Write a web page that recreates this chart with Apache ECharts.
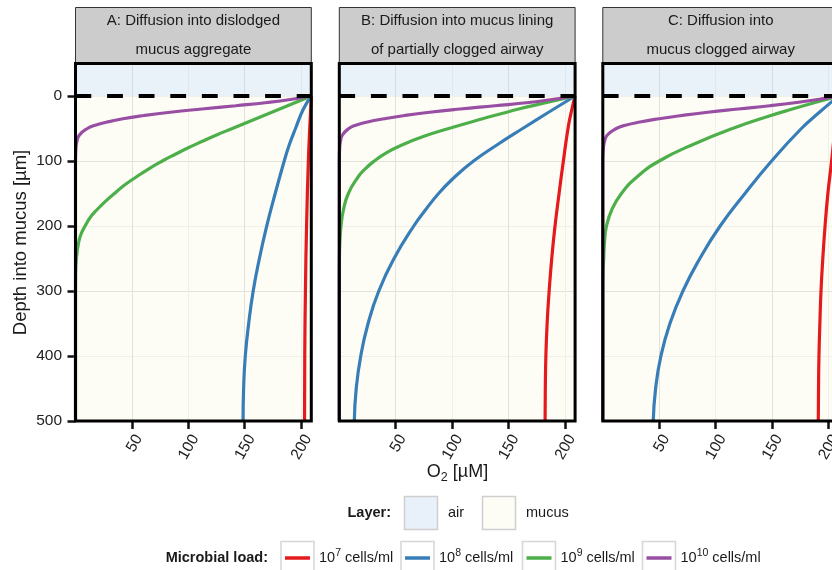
<!DOCTYPE html>
<html><head><meta charset="utf-8">
<script src="https://cdn.jsdelivr.net/npm/echarts@6/dist/echarts.min.js"></script>
<style>html,body{margin:0;padding:0;background:#fff}#c{width:832px;height:570px}</style>
</head><body><div id="c"></div><script>
const FONT = "'Liberation Sans', Arial, Helvetica, sans-serif";

// ---------- labels ----------
const panelTitles = [
  ["A: Diffusion into dislodged", "mucus aggregate"],
  ["B: Diffusion into mucus lining", "of partially clogged airway"],
  ["C: Diffusion into", "mucus clogged airway"]
];
const loadExponents = ["7", "8", "9", "10"];
const loadColors = ["#e41a1c", "#377eb8", "#4daf4a", "#984ea3"];
const layerNames = ["air", "mucus"];
const xTickValues = [50, 100, 150, 200];
const yTickValues = [0, 100, 200, 300, 400, 500];
const yTitle = "Depth into mucus [µm]";

// ---------- data : depth [µm] and O2 [µM] ----------
// Panel A
const depth_A_7  = [0, 50, 100, 200, 300, 400, 500];
const o2_A_7     = [209, 207.6, 206.4, 204.8, 203.8, 203.2, 203];
const depth_A_8  = [0, 20, 50, 75, 100, 150, 200, 250, 300, 350, 400, 450, 500];
const o2_A_8     = [209, 202, 195, 189.5, 185, 177, 169.5, 163, 157.5, 153.5, 150.5, 149, 148.5];
const depth_A_9  = [0, 10, 20, 30, 40, 50, 60, 70, 80, 90, 100, 112, 125, 137, 150, 162, 175, 187, 200, 212, 225, 250, 275, 300, 500];
const o2_A_9     = [209, 195, 181, 167, 153, 139, 125, 112, 99.5, 88, 77, 65, 53.5, 43.5, 34.5, 26.5, 19, 13, 8.5, 5, 2.8, 0.8, 0.1, 0, 0];
const depth_A_10 = [0, 5, 10, 15, 20, 25, 30, 35, 40, 45, 50, 60, 70, 80, 100, 200, 500];
const o2_A_10    = [209, 192, 170, 142, 112, 84, 61, 42, 28, 17.5, 10.5, 3.5, 1.2, 0.4, 0, 0, 0];
// Panel B
const depth_B_7  = [0, 20, 47, 100, 150, 200, 250, 300, 350, 400, 450, 500];
const o2_B_7     = [209, 206.2, 203, 198.6, 194.8, 191.2, 188.3, 186, 184.2, 183.1, 182.6, 182.4];
const depth_B_8  = [0, 25, 50, 75, 100, 125, 150, 175, 200, 250, 300, 350, 400, 450, 500];
const o2_B_8     = [209, 185.5, 162.5, 140, 119, 102, 88, 76.5, 66, 48.5, 35, 25.5, 19, 15, 13.3];
const depth_B_9  = [0, 10, 20, 27, 35, 50, 62, 75, 87, 100, 112, 125, 150, 175, 200, 225, 250, 300, 500];
const o2_B_9     = [209, 184, 159, 144, 127, 97, 75, 56, 42, 31, 23, 16.5, 8, 3.7, 1.5, 0.5, 0.1, 0, 0];
const depth_B_10 = [0, 5, 10, 15, 20, 25, 30, 35, 40, 45, 50, 60, 70, 80, 100, 200, 500];
const o2_B_10    = [209, 190, 168, 138, 107, 80, 58, 40, 25, 14.5, 8.5, 2.8, 1, 0.3, 0, 0, 0];
// Panel C
const depth_C_7  = [0, 25, 50, 75, 100, 150, 200, 250, 300, 350, 400, 450, 500];
const o2_C_7     = [209, 207.3, 205.8, 204.3, 202.8, 199.5, 197, 195, 193.4, 192.4, 191.6, 191.2, 191];
const depth_C_8  = [0, 25, 50, 100, 150, 200, 250, 300, 350, 400, 450, 500];
const o2_C_8     = [209, 192, 176, 149.6, 126, 104, 86, 71, 59.5, 51.5, 46.8, 44.7];
const depth_C_9  = [0, 10, 20, 30, 50, 73, 100, 125, 150, 175, 200, 225, 250, 275, 300, 500];
const o2_C_9     = [209, 188, 168, 149, 115, 82, 50, 30, 16.5, 8, 3.3, 1.5, 0.8, 0.2, 0, 0];
const depth_C_10 = [0, 5, 10, 15, 20, 25, 30, 35, 40, 45, 50, 60, 70, 80, 100, 200, 500];
const o2_C_10    = [209, 192, 172, 148, 120, 93, 70, 50, 33, 20, 12, 4, 1.5, 0.5, 0, 0, 0];

const panelData = [
  [[depth_A_7, o2_A_7], [depth_A_8, o2_A_8], [depth_A_9, o2_A_9], [depth_A_10, o2_A_10]],
  [[depth_B_7, o2_B_7], [depth_B_8, o2_B_8], [depth_B_9, o2_B_9], [depth_B_10, o2_B_10]],
  [[depth_C_7, o2_C_7], [depth_C_8, o2_C_8], [depth_C_9, o2_C_9], [depth_C_10, o2_C_10]]
];
const X_MIN = 0, X_MAX = 209, Y_MIN = -50, Y_MAX = 500, AIR_TOP = -50, SURFACE = 0;

// ---------- layout ----------
const PANEL_LEFT = [75.5, 339.3, 602.8];
const PANEL_W = 235.8, PANEL_TOP = 63.5, PANEL_H = 357.5, STRIP_TOP = 7.5;
const AIR_FILL = "rgba(186,211,236,0.32)";
const MUCUS_FILL = "rgba(245,240,190,0.15)";
const GRID_MAJOR = "#e0e0e0", GRID_MINOR = "#f0f0f0";
const TEXT = "#1a1a1a";

const grids = [], xAxes = [], yAxes = [], series = [];
PANEL_LEFT.forEach((L, i) => {
  grids.push({ left: L, top: PANEL_TOP, width: PANEL_W, height: PANEL_H, outerBoundsMode: 'none', containLabel: false });
  xAxes.push({
    type: 'value', gridIndex: i, position: 'bottom', min: X_MIN, max: X_MAX, interval: 25,
    axisLine: { show: false, onZero: false },
    axisTick: { show: true, customValues: xTickValues, length: 8, lineStyle: { color: '#111', width: 2.5 } },
    axisLabel: { customValues: xTickValues, rotate: 60, align: 'right', verticalAlign: 'top', margin: 11,
                 fontSize: 15.5, color: '#222', fontFamily: FONT },
    splitLine: { show: true, lineStyle: { color: [GRID_MAJOR, GRID_MINOR], width: 1 } }
  });
  yAxes.push({
    type: 'value', gridIndex: i, position: 'left', inverse: true, min: Y_MIN, max: Y_MAX, interval: 50,
    axisLine: { show: false, onZero: false },
    axisTick: { show: i === 0, customValues: yTickValues, length: 8, lineStyle: { color: '#111', width: 2.5 } },
    axisLabel: { show: i === 0, customValues: yTickValues, margin: 13.5, fontSize: 15.5, color: '#222', fontFamily: FONT },
    splitLine: { show: true, lineStyle: { color: [GRID_MINOR, GRID_MAJOR], width: 1 } }
  });
  panelData[i].forEach(([depth, o2], j) => {
    const s = {
      type: 'line', xAxisIndex: i, yAxisIndex: i, name: loadExponents[j],
      data: depth.map((d, k) => [o2[k], d]),
      showSymbol: false, smooth: 0.5, z: 3 + j,
      lineStyle: { color: loadColors[j], width: 3.2 }, itemStyle: { color: loadColors[j] }
    };
    if (j === 0) {
      s.markArea = {
        silent: true, z: 1,
        data: [
          [{ yAxis: AIR_TOP, itemStyle: { color: AIR_FILL } }, { yAxis: SURFACE }],
          [{ yAxis: SURFACE, itemStyle: { color: MUCUS_FILL } }, { yAxis: Y_MAX }]
        ]
      };
      s.markLine = {
        silent: true, symbol: 'none', z: 20, label: { show: false },
        lineStyle: { color: '#000', width: 4, type: [15.8, 15.8] },
        data: [{ yAxis: SURFACE }]
      };
    }
    series.push(s);
  });
});

// ---------- graphics: strips, frames, titles, legends ----------
const g = [];
PANEL_LEFT.forEach((L, i) => {
  g.push({ type: 'rect', z: 90, shape: { x: L, y: STRIP_TOP, width: PANEL_W, height: PANEL_TOP - STRIP_TOP },
           style: { fill: '#cccccc', stroke: '#333', lineWidth: 1 } });
  panelTitles[i].forEach((t, k) => g.push({ type: 'text', z: 91, x: L + PANEL_W / 2, y: STRIP_TOP + 13.8 + k * 28.6,
    style: { text: t, fill: TEXT, font: `15px ${FONT}`, align: 'center', verticalAlign: 'middle', textAlign: 'center', textVerticalAlign: 'middle' } }));
  g.push({ type: 'rect', z: 100, shape: { x: L, y: PANEL_TOP, width: PANEL_W, height: PANEL_H },
           style: { fill: 'none', stroke: '#000', lineWidth: 3 } });
});
// axis titles
g.push({ type: 'text', z: 91, x: 457.5, y: 472,
  style: { text: '{n|O}{s|2}{n| [µM]}', align: 'center', verticalAlign: 'middle', textAlign: 'center', textVerticalAlign: 'middle',
    rich: { n: { fontSize: 18, fontFamily: FONT, fill: TEXT, color: TEXT, lineHeight: 24 },
            s: { fontSize: 12.5, fontFamily: FONT, fill: TEXT, color: TEXT, lineHeight: 12, verticalAlign: 'bottom' } } } });
g.push({ type: 'text', z: 91, x: 21, y: 242.5, rotation: Math.PI / 2,
  style: { text: yTitle, fill: TEXT, font: `18.5px ${FONT}`, align: 'center', verticalAlign: 'middle', textAlign: 'center', textVerticalAlign: 'middle' } });

// legend: layer
const LEG_FONT = `14.5px ${FONT}`, LEG_BOLD = `bold 14.5px ${FONT}`;
g.push({ type: 'text', z: 91, x: 391, y: 513, style: { text: 'Layer:', fill: TEXT, font: LEG_BOLD, align: 'right', verticalAlign: 'middle', textAlign: 'right', textVerticalAlign: 'middle' } });
const layerBoxX = [404.5, 482.5], layerFills = ['#e8f0f9', '#fdfdf5'];
layerNames.forEach((n, k) => {
  g.push({ type: 'rect', z: 91, shape: { x: layerBoxX[k], y: 496.5, width: 33, height: 33 },
           style: { fill: layerFills[k], stroke: '#cfcfcf', lineWidth: 1.5 } });
  g.push({ type: 'text', z: 91, x: layerBoxX[k] + 43.5, y: 513, style: { text: n, fill: TEXT, font: LEG_FONT, align: 'left', verticalAlign: 'middle', textAlign: 'left', textVerticalAlign: 'middle' } });
});
// legend: microbial load
g.push({ type: 'text', z: 91, x: 268, y: 558, style: { text: 'Microbial load:', fill: TEXT, font: LEG_BOLD, align: 'right', verticalAlign: 'middle', textAlign: 'right', textVerticalAlign: 'middle' } });
const loadBoxX = [281, 401, 522.5, 642.5];
loadExponents.forEach((e, k) => {
  const bx = loadBoxX[k];
  g.push({ type: 'rect', z: 91, shape: { x: bx, y: 541.5, width: 33, height: 33 }, style: { fill: '#fff', stroke: '#d6d6d6', lineWidth: 1.5 } });
  g.push({ type: 'line', z: 92, shape: { x1: bx + 4, y1: 558, x2: bx + 29, y2: 558 }, style: { stroke: loadColors[k], lineWidth: 3.5 } });
  g.push({ type: 'text', z: 92, x: bx + 38, y: 558,
    style: { text: `{b|10}{s|${e}}{b| cells/ml}`, align: 'left', verticalAlign: 'middle', textAlign: 'left', textVerticalAlign: 'middle',
      rich: { b: { fontSize: 14.5, fontFamily: FONT, fill: TEXT, color: TEXT, lineHeight: 20 },
              s: { fontSize: 10.5, fontFamily: FONT, fill: TEXT, color: TEXT, lineHeight: 10, verticalAlign: 'top' } } } });
});

const chart = echarts.init(document.getElementById('c'), null, { renderer: 'canvas' });
chart.setOption({
  animation: false,
  backgroundColor: '#ffffff',
  textStyle: { fontFamily: FONT },
  grid: grids, xAxis: xAxes, yAxis: yAxes, series: series, graphic: { elements: g }
});
</script></body></html>
